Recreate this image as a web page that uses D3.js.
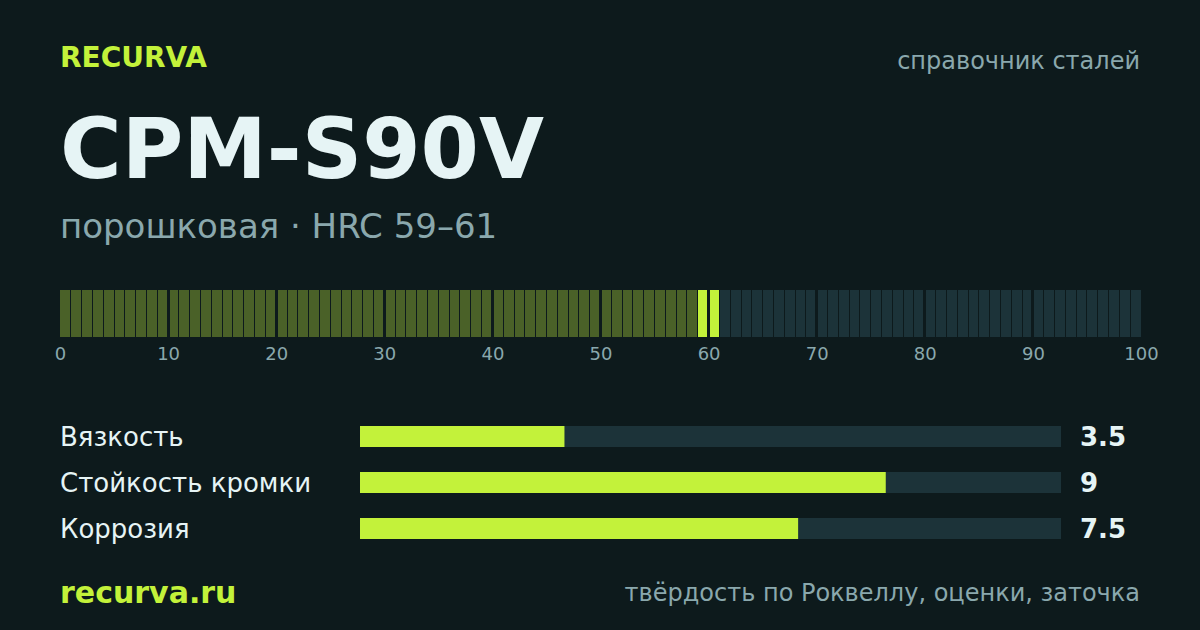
<!DOCTYPE html>
<html lang="ru">
<head>
  <meta charset="UTF-8">
  <title>CPM-S90V</title>
  <script src="https://d3js.org/d3.v7.min.js"></script>
  <style>
    html, body { margin: 0; padding: 0; background: #0d1a1c; }
    svg { display: block; font-family: "DejaVu Sans", sans-serif; }
  </style>
</head>
<body>
  <svg id="card" width="1200" height="630"></svg>

  <script>
    // hardness strip
    const hrcTicks = [0, 10, 20, 30, 40, 50, 60, 70, 80, 90, 100];
    const hrcCells = d3.range(100);
    const hrcLow = 59;
    const hrcHigh = 61;

    // ratings
    const ratingNames = ["Вязкость", "Стойкость кромки", "Коррозия"];
    const ratingValues = [3.5, 9, 7.5];
    const ratingMax = 12;

    const colors = {
      bg: "#0d1a1c",
      lime: "#c3f23a",
      limeDim: "#4a6128",
      slate: "#1c3339",
      muted: "#8aa8ad",
      light: "#e6f4f5"
    };

    const svg = d3.select("#card");

    svg.append("rect").attr("width", 1200).attr("height", 630).attr("fill", colors.bg);

    function label(x, y, str, size, fill, weight, anchor) {
      svg.append("text")
        .attr("x", x).attr("y", y)
        .attr("font-size", size)
        .attr("font-weight", weight || "normal")
        .attr("text-anchor", anchor || "start")
        .attr("fill", fill)
        .text(str);
    }

    // === HEADER ===
    label(60, 67, "RECURVA", 28, colors.lime, "bold");
    label(1140, 69, "справочник сталей", 24, colors.muted, "normal", "end");
    label(60, 178, "CPM-S90V", 84, colors.light, "bold");
    label(60, 238, "порошковая · HRC 59–61", 34, colors.muted);

    // === HRC STRIP ===
    const x = d3.scaleLinear().domain([0, 100]).range([60, 1141]);
    const stripTop = 290, stripHeight = 47;

    const strip = svg.append("g").attr("shape-rendering", "crispEdges");

    strip.selectAll("rect.cell")
      .data(hrcCells)
      .enter().append("rect")
      .attr("class", "cell")
      .attr("x", d => Math.ceil(x(d)))
      .attr("y", stripTop)
      .attr("width", d => Math.floor(x(d + 1)) - Math.ceil(x(d)))
      .attr("height", stripHeight)
      .attr("fill", d => d >= hrcHigh ? colors.slate : d >= hrcLow ? colors.lime : colors.limeDim);

    // dark dividers every 10
    strip.selectAll("line.divider")
      .data(hrcTicks.slice(1, -1))
      .enter().append("line")
      .attr("class", "divider")
      .attr("x1", d => x(d)).attr("x2", d => x(d))
      .attr("y1", stripTop).attr("y2", stripTop + stripHeight)
      .attr("stroke", colors.bg)
      .attr("stroke-width", 3);

    const axis = svg.append("g")
      .attr("transform", `translate(0,${stripTop + stripHeight})`)
      .call(d3.axisBottom(x).tickValues(hrcTicks).tickSize(0).tickPadding(10).tickFormat(d3.format("d")));
    axis.select(".domain").remove();
    axis.selectAll("text")
      .attr("font-family", '"DejaVu Sans", sans-serif')
      .attr("font-size", 18)
      .attr("fill", colors.muted);

    // === RATINGS ===
    const xRating = d3.scaleLinear().domain([0, ratingMax]).range([360, 1061]);
    const yRating = d3.scalePoint().domain(ratingNames).range([426, 518]);
    const barHeight = 21;

    ratingNames.forEach((name, i) => {
      const y = yRating(name);
      label(60, y + 19.5, name, 26, colors.light);
      svg.append("rect")
        .attr("x", xRating(0)).attr("y", y)
        .attr("width", xRating(ratingMax) - xRating(0)).attr("height", barHeight)
        .attr("fill", colors.slate);
      svg.append("rect")
        .attr("x", xRating(0)).attr("y", y)
        .attr("width", xRating(ratingValues[i]) - xRating(0)).attr("height", barHeight)
        .attr("fill", colors.lime);
      label(1080, y + 19.5, ratingValues[i], 26, colors.light, "bold");
    });

    // === FOOTER ===
    label(60, 603, "recurva.ru", 30, colors.lime, "bold");
    label(1140, 601, "твёрдость по Роквеллу, оценки, заточка", 24, colors.muted, "normal", "end");
  </script>
</body>
</html>
